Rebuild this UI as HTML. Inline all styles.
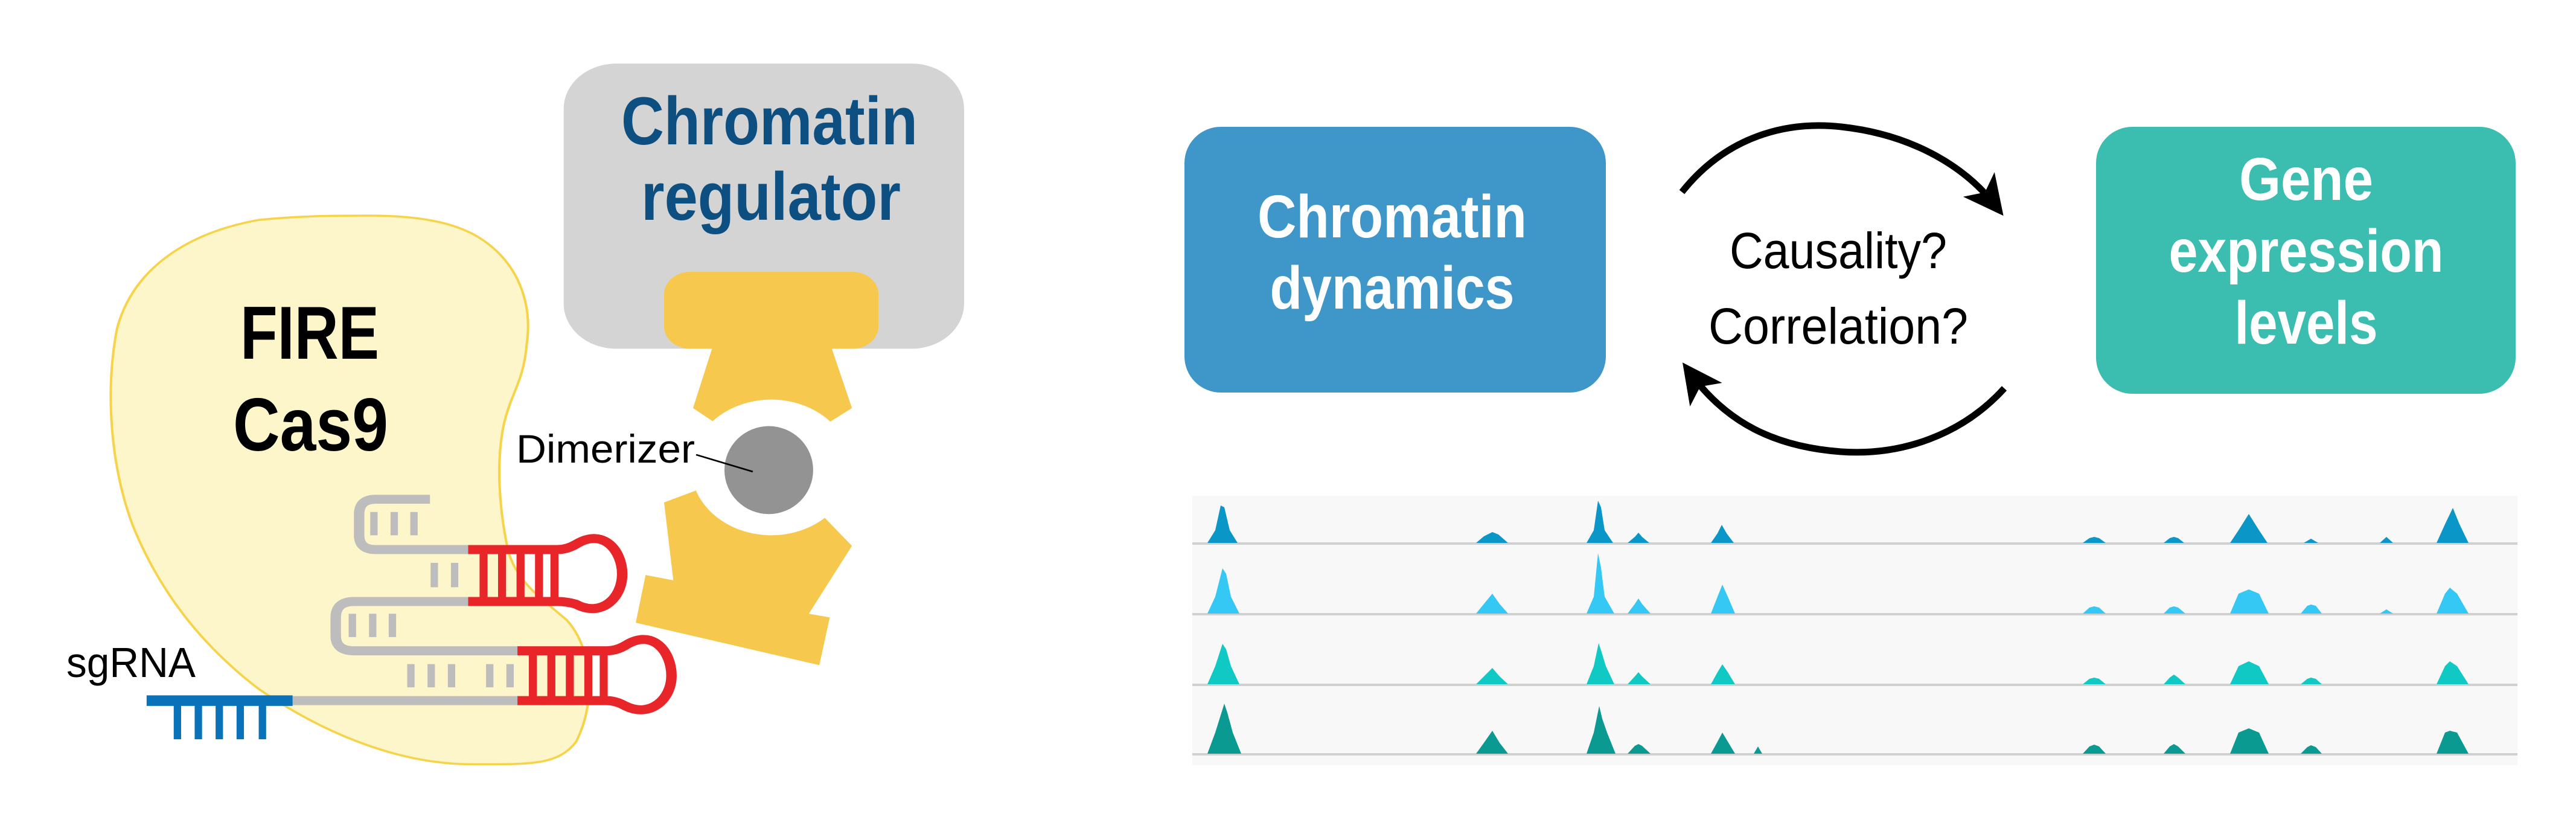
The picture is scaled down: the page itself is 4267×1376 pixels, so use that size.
<!DOCTYPE html>
<html><head><meta charset="utf-8"><style>
html,body{margin:0;padding:0;background:#fff;}
body{width:4267px;height:1376px;position:relative;overflow:hidden;font-family:"Liberation Sans","DejaVu Sans",sans-serif;}
svg{position:absolute;left:0;top:0;}
</style></head><body>
<svg width="1600" height="1376" viewBox="0 0 1568 1568" preserveAspectRatio="none">
  <rect x="915" y="120" width="650" height="538" rx="85" fill="#d4d4d4"/>
  <rect x="1078" y="513" width="348" height="145" rx="42" fill="#f6c94e"/>
  <polygon points="1158,650 1348,650 1383,770 1335,805 1170,805 1125,770" fill="#f6c94e"/>
  <polygon points="1078,948 1138,922 1333,970 1383,1030 1313,1158 1347,1165 1330,1255 1032,1175 1048,1085 1093,1095" fill="#f6c94e"/>
  <ellipse cx="1252" cy="882" rx="130" ry="128" fill="#fff"/>
  <ellipse cx="1248" cy="887" rx="72" ry="83" fill="#939393"/>
  <path d="M580,407 C680,405 740,420 780,450 C840,495 865,570 855,650 C850,720 830,740 818,800 C805,870 810,960 825,1040 C840,1100 880,1130 920,1170 C960,1220 970,1320 935,1400 C905,1445 860,1442 760,1442 C640,1440 520,1380 420,1300 C330,1220 260,1120 215,990 C180,880 170,740 190,620 C215,510 300,440 420,415 C480,408 530,407 580,407 Z" fill="#fef5c5" fill-opacity="0.9" stroke="#f7d34a" stroke-width="4"/>
  <line x1="1130" y1="858" x2="1222" y2="890" stroke="#000" stroke-width="3"/>
  <g fill="none" stroke="#bdbdbd" stroke-width="17">
    <path d="M698,942 L610,942 Q583,942 583,970 L583,1010 Q583,1037 610,1037 L765,1037"/>
    <path d="M765,1135 L575,1135 Q545,1135 545,1165 L545,1200 Q545,1228 575,1228 L845,1228"/>
    <line x1="475" y1="1322" x2="845" y2="1322"/>
  </g>
  <g stroke="#bdbdbd" stroke-width="12">
    <line x1="607" y1="966" x2="607" y2="1010"/><line x1="640" y1="966" x2="640" y2="1010"/><line x1="672" y1="966" x2="672" y2="1010"/>
    <line x1="705" y1="1062" x2="705" y2="1108"/><line x1="738" y1="1062" x2="738" y2="1108"/>
    <line x1="572" y1="1158" x2="572" y2="1202"/><line x1="605" y1="1158" x2="605" y2="1202"/><line x1="637" y1="1158" x2="637" y2="1202"/>
    <line x1="667" y1="1253" x2="667" y2="1297"/><line x1="700" y1="1253" x2="700" y2="1297"/><line x1="733" y1="1253" x2="733" y2="1297"/>
    <line x1="795" y1="1253" x2="795" y2="1297"/><line x1="828" y1="1253" x2="828" y2="1297"/>
  </g>
  <g fill="none" stroke="#e8262a" stroke-width="17">
    <path d="M760,1037 L905,1037 Q920,1037 935,1027 C980,995 1010,1040 1010,1083 C1010,1130 975,1165 935,1140 Q920,1135 905,1135 L760,1135"/>
    <path d="M840,1228 L985,1228 Q1000,1228 1015,1218 C1060,1185 1090,1230 1090,1275 C1090,1320 1055,1355 1015,1332 Q1000,1322 985,1322 L840,1322"/>
  </g>
  <g stroke="#e8262a" stroke-width="13">
    <line x1="785" y1="1037" x2="785" y2="1135"/><line x1="815" y1="1037" x2="815" y2="1135"/><line x1="845" y1="1037" x2="845" y2="1135"/><line x1="875" y1="1037" x2="875" y2="1135"/><line x1="900" y1="1037" x2="900" y2="1135"/>
    <line x1="865" y1="1228" x2="865" y2="1322"/><line x1="895" y1="1228" x2="895" y2="1322"/><line x1="925" y1="1228" x2="925" y2="1322"/><line x1="955" y1="1228" x2="955" y2="1322"/><line x1="980" y1="1228" x2="980" y2="1322"/>
  </g>
  <line x1="238" y1="1322" x2="475" y2="1322" stroke="#0a72b8" stroke-width="20"/>
  <g stroke="#0a72b8" stroke-width="12">
    <line x1="288" y1="1322" x2="288" y2="1395"/><line x1="322" y1="1322" x2="322" y2="1395"/><line x1="356" y1="1322" x2="356" y2="1395"/><line x1="390" y1="1322" x2="390" y2="1395"/><line x1="426" y1="1322" x2="426" y2="1395"/>
  </g>
</svg>
<svg width="1600" height="1376" viewBox="0 0 1600 1376">
  <text x="1029" y="239" font-size="112" font-weight="bold" fill="#0d4f80" textLength="491" lengthAdjust="spacingAndGlyphs">Chromatin</text>
  <text x="1062" y="364" font-size="112" font-weight="bold" fill="#0d4f80" textLength="430" lengthAdjust="spacingAndGlyphs">regulator</text>
  <text x="398" y="594" font-size="124" font-weight="bold" fill="#000" textLength="230" lengthAdjust="spacingAndGlyphs">FIRE</text>
  <text x="386" y="746" font-size="124" font-weight="bold" fill="#000" textLength="257" lengthAdjust="spacingAndGlyphs">Cas9</text>
  <text x="855" y="766" font-size="66" fill="#000" textLength="296" lengthAdjust="spacingAndGlyphs">Dimerizer</text>
  <text x="110" y="1121" font-size="70" fill="#000" textLength="214" lengthAdjust="spacingAndGlyphs">sgRNA</text>
</svg>

<svg width="4267" height="1376" viewBox="0 0 4267 1376">
  <defs>
    <marker id="ah" markerWidth="8" markerHeight="8" refX="4" refY="3" orient="auto" markerUnits="strokeWidth">
      <path d="M0,0 L6,3 L0,6 L1.5,3 Z" fill="#000"/>
    </marker>
  </defs>
  <rect x="1962" y="210" width="698" height="440" rx="60" fill="#3e96c9"/>
  <text x="2306" y="393" text-anchor="middle" font-size="100" font-weight="bold" fill="#fff" textLength="446" lengthAdjust="spacingAndGlyphs">Chromatin</text>
  <text x="2306" y="511" text-anchor="middle" font-size="100" font-weight="bold" fill="#fff" textLength="405" lengthAdjust="spacingAndGlyphs">dynamics</text>
  <rect x="3472" y="210" width="695" height="442" rx="60" fill="#3bbdb0"/>
  <text x="3820" y="331" text-anchor="middle" font-size="100" font-weight="bold" fill="#fff" textLength="222" lengthAdjust="spacingAndGlyphs">Gene</text>
  <text x="3820" y="450" text-anchor="middle" font-size="100" font-weight="bold" fill="#fff" textLength="455" lengthAdjust="spacingAndGlyphs">expression</text>
  <text x="3820" y="569" text-anchor="middle" font-size="100" font-weight="bold" fill="#fff" textLength="237" lengthAdjust="spacingAndGlyphs">levels</text>
  <text x="3045" y="444" text-anchor="middle" font-size="84" fill="#000" textLength="360" lengthAdjust="spacingAndGlyphs">Causality?</text>
  <text x="3045" y="569" text-anchor="middle" font-size="84" fill="#000" textLength="430" lengthAdjust="spacingAndGlyphs">Correlation?</text>
  <path d="M2786,318 C2860,225 2960,200 3050,210 C3160,222 3250,270 3305,340" fill="none" stroke="#000" stroke-width="11" marker-end="url(#ah)"/>
  <path d="M3320,643 C3250,720 3150,755 3050,748 C2940,740 2860,700 2800,618" fill="none" stroke="#000" stroke-width="11" marker-end="url(#ah)"/>
  <rect x="1975" y="821" width="2195" height="446" fill="#f8f8f8"/>
  <g fill="#d0d0d0">
    <rect x="1975" y="898" width="2195" height="4"/><rect x="1975" y="1015" width="2195" height="4"/>
    <rect x="1975" y="1132" width="2195" height="4"/><rect x="1975" y="1247" width="2195" height="4"/>
  </g>
  <g fill="#0a97c8">
    <polygon points="2000,899 2013,878 2022,837 2028,840 2037,878 2050,899"/>
    <polygon points="2445,899 2458,888 2472,881 2482,885 2498,899"/>
    <polygon points="2628,899 2640,878 2647,829 2652,840 2658,878 2672,899"/>
    <polygon points="2696,899 2708,889 2714,882 2720,889 2732,899"/>
    <polygon points="2834,899 2845,883 2852,869 2860,883 2872,899"/>
    <polygon points="3450,899 3461,891 3469,889 3477,891 3488,899"/>
    <polygon points="3584,899 3594,891 3601,889 3608,891 3618,899"/>
    <polygon points="3694,899 3708,878 3725,851 3742,878 3756,899"/>
    <polygon points="3816,899 3828,892 3840,899"/>
    <polygon points="3942,899 3953,889 3964,899"/>
    <polygon points="4036,899 4050,868 4063,841 4074,868 4089,899"/>
  </g>
  <g fill="#35c8f5">
    <polygon points="2000,1016 2013,988 2025,941 2031,950 2039,988 2053,1016"/>
    <polygon points="2445,1016 2458,1000 2472,983 2484,1000 2498,1016"/>
    <polygon points="2628,1016 2640,988 2647,916 2652,940 2658,988 2674,1016"/>
    <polygon points="2696,1016 2708,1000 2714,991 2720,1000 2734,1016"/>
    <polygon points="2834,1016 2845,988 2853,968 2862,988 2874,1016"/>
    <polygon points="3450,1016 3461,1006 3469,1004 3477,1006 3488,1016"/>
    <polygon points="3584,1016 3594,1006 3601,1004 3608,1006 3620,1016"/>
    <polygon points="3694,1016 3708,983 3725,976 3742,983 3758,1016"/>
    <polygon points="3811,1016 3822,1003 3828,1001 3836,1003 3846,1016"/>
    <polygon points="3942,1016 3953,1009 3964,1016"/>
    <polygon points="4036,1016 4050,983 4058,973 4070,983 4089,1016"/>
  </g>
  <g fill="#11c9c4">
    <polygon points="2000,1133 2013,1103 2025,1066 2031,1075 2039,1103 2053,1133"/>
    <polygon points="2445,1133 2458,1120 2472,1106 2484,1120 2498,1133"/>
    <polygon points="2628,1133 2640,1103 2648,1065 2653,1080 2660,1103 2674,1133"/>
    <polygon points="2696,1133 2708,1120 2714,1113 2720,1120 2734,1133"/>
    <polygon points="2834,1133 2845,1113 2853,1100 2862,1113 2874,1133"/>
    <polygon points="3450,1133 3461,1124 3469,1122 3477,1124 3488,1133"/>
    <polygon points="3584,1133 3594,1122 3601,1117 3608,1122 3620,1133"/>
    <polygon points="3694,1133 3708,1103 3725,1095 3742,1103 3758,1133"/>
    <polygon points="3811,1133 3822,1124 3828,1122 3836,1124 3846,1133"/>
    <polygon points="4036,1133 4050,1103 4058,1095 4070,1103 4089,1133"/>
  </g>
  <g fill="#0a9a92">
    <polygon points="2000,1248 2013,1213 2028,1165 2033,1180 2042,1213 2056,1248"/>
    <polygon points="2445,1248 2458,1230 2472,1210 2484,1230 2498,1248"/>
    <polygon points="2628,1248 2640,1213 2649,1169 2654,1190 2662,1213 2676,1248"/>
    <polygon points="2696,1248 2708,1235 2714,1232 2720,1235 2734,1248"/>
    <polygon points="2834,1248 2845,1228 2853,1213 2862,1228 2874,1248"/>
    <polygon points="2905,1248 2912,1236 2919,1248"/>
    <polygon points="3450,1248 3461,1236 3469,1233 3477,1236 3488,1248"/>
    <polygon points="3584,1248 3594,1236 3601,1232 3608,1236 3620,1248"/>
    <polygon points="3694,1248 3708,1213 3725,1206 3742,1213 3758,1248"/>
    <polygon points="3811,1248 3822,1237 3828,1234 3836,1237 3846,1248"/>
    <polygon points="4036,1248 4050,1213 4058,1210 4070,1213 4089,1248"/>
  </g>
</svg>
</body></html>
